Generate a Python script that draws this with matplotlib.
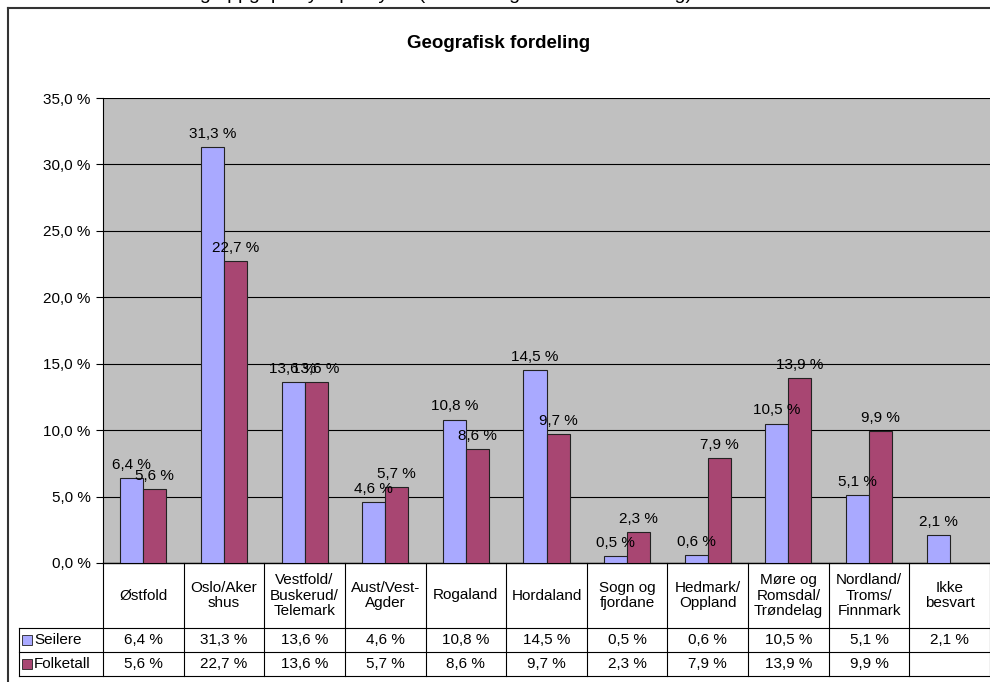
import matplotlib.pyplot as plt
import numpy as np

plt.rcParams['font.family'] = ['Liberation Sans', 'DejaVu Sans']

omrader = ['Østfold', 'Oslo/Aker\nshus', 'Vestfold/\nBuskerud/\nTelemark', 'Aust/Vest-\nAgder',
           'Rogaland', 'Hordaland', 'Sogn og\nfjordane', 'Hedmark/\nOppland',
           'Møre og\nRomsdal/\nTrøndelag', 'Nordland/\nTroms/\nFinnmark', 'Ikke\nbesvart']
seilere = [6.4, 31.3, 13.6, 4.6, 10.8, 14.5, 0.5, 0.6, 10.5, 5.1, 2.1]
folketall = [5.6, 22.7, 13.6, 5.7, 8.6, 9.7, 2.3, 7.9, 13.9, 9.9, None]
serier = ['Seilere', 'Folketall']
farger = ['#A9A9FF', '#A84672']
yticks = [0, 5, 10, 15, 20, 25, 30, 35]

W, H = 990, 682
fig = plt.figure(figsize=(W / 100, H / 100), dpi=100)

# piksel -> figur
def fx(px):
    return px / W

def fy(py):
    return 1 - py / H

# avkuttet tekst oppe (bare nedre del synes)
fig.text(fx(128), fy(-1), 'Innseiling oppgripsmyte per fylke (sammenlignet med befolkning)',
         fontsize=14, ha='left', va='baseline', color='black')

# ramme rundt diagrammet
fig.add_artist(plt.Line2D([fx(8), fx(8)], [fy(8), fy(H + 5)], color='#333333', lw=1.5))
fig.add_artist(plt.Line2D([fx(8), fx(W + 5)], [fy(8), fy(8)], color='#333333', lw=1.5))

fig.text(fx(499), fy(44), 'Geografisk fordeling', fontsize=13.5, fontweight='bold',
         ha='center', va='center')

x0, x1, ytop, ybot = 103, 990, 98, 563
ax = fig.add_axes([fx(x0), fy(ybot), fx(x1 - x0), (ybot - ytop) / H])
ax.set_facecolor('#C0C0C0')

n = len(omrader)
x = np.arange(n)
bw = 0.286
for k, (vals, c) in enumerate(zip([seilere, folketall], farger)):
    for i, v in enumerate(vals):
        if v is None:
            continue
        xi = x[i] + (k - 0.5) * bw
        ax.bar(xi, v, width=bw, color=c, edgecolor='#222222', linewidth=0.8, zorder=3)
        ax.annotate(f'{v:.1f} %'.replace('.', ','), (xi, v), xytext=(0, 6.5),
                    textcoords='offset points', ha='center', va='baseline', fontsize=11, zorder=4)

ax.set_xlim(-0.5, n - 0.5)
ax.set_ylim(0, 35)
ax.set_yticks(yticks)
ax.set_yticklabels([f'{t:.1f} %'.replace('.', ',') for t in yticks], fontsize=11)
ax.tick_params(axis='y', direction='out', length=5, width=0.8, pad=4)
ax.set_xticks([])
ax.grid(axis='y', color='black', linewidth=0.8, zorder=1)
for s in ['top', 'right']:
    ax.spines[s].set_visible(False)
ax.spines['left'].set_linewidth(0.8)
ax.spines['bottom'].set_linewidth(1.0)

# datatabell under aksen
tr = ax.get_xaxis_transform()
hpx = ybot - ytop

def ay(py):
    return (ybot - py) / hpx

def ax_x(px):
    return -0.5 + (px - x0) / ((x1 - x0) / n)

rad = [563, 628, 652, 676]
xleft = ax_x(19)
lk = dict(color='black', lw=0.8, transform=tr, clip_on=False)
for r in rad[1:]:
    ax.plot([xleft, n - 0.5 + 0.1], [ay(r), ay(r)], **lk)
for i in range(n + 1):
    ax.plot([i - 0.5, i - 0.5], [ay(rad[0]), ay(rad[-1])], **lk)
ax.plot([xleft, xleft], [ay(rad[1]), ay(rad[-1])], **lk)

for i, navn in enumerate(omrader):
    ax.text(i, ay((rad[0] + rad[1]) / 2), navn, transform=tr, ha='center', va='center',
            fontsize=11, linespacing=1.1, clip_on=False)
    for k, vals in enumerate([seilere, folketall]):
        v = vals[i]
        if v is None:
            continue
        ax.text(i, ay((rad[k + 1] + rad[k + 2]) / 2), f'{v:.1f} %'.replace('.', ','),
                transform=tr, ha='center', va='center', fontsize=11, clip_on=False)

for k, (navn, c) in enumerate(zip(serier, farger)):
    ym = ay((rad[k + 1] + rad[k + 2]) / 2)
    ax.plot([ax_x(27)], [ym], marker='s', markersize=7, markerfacecolor=c,
            markeredgecolor='#222222', markeredgewidth=0.6, transform=tr, clip_on=False)
    ax.text(ax_x(34), ym, navn, transform=tr, ha='left', va='center', fontsize=11, clip_on=False)

fig.savefig('out.png', dpi=100)
